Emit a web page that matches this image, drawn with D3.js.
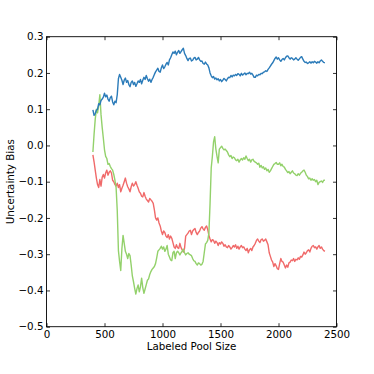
<!DOCTYPE html>
<html>
<head>
<meta charset="utf-8">
<script src="https://cdn.jsdelivr.net/npm/d3@7"></script>
<style>
  html, body { margin: 0; padding: 0; background: #fff; }
  svg { display: block; }
  text { font-family: "DejaVu Sans", sans-serif; }
</style>
</head>
<body>
<div id="chart"></div>
<script>
// labeled pool sizes, one sample every 10
var poolStart = 400;
var poolStep = 10;

var blueBias = [
  0.098, 0.083, 0.088, 0.097, 0.100, 0.115, 0.112, 0.124, 0.128, 0.133,
  0.144, 0.134, 0.139, 0.128, 0.122, 0.132, 0.136, 0.120, 0.112, 0.122,
  0.118, 0.140, 0.184, 0.196, 0.188, 0.180, 0.168, 0.180, 0.186, 0.174,
  0.179, 0.168, 0.162, 0.174, 0.178, 0.168, 0.174, 0.163, 0.170, 0.178,
  0.174, 0.182, 0.170, 0.180, 0.188, 0.182, 0.193, 0.184, 0.177, 0.183,
  0.174, 0.182, 0.188, 0.196, 0.203, 0.208, 0.213, 0.204, 0.202, 0.214,
  0.222, 0.212, 0.217, 0.224, 0.229, 0.222, 0.236, 0.242, 0.250, 0.258,
  0.254, 0.260, 0.250, 0.257, 0.262, 0.254, 0.259, 0.264, 0.268, 0.254,
  0.248, 0.240, 0.234, 0.240, 0.241, 0.233, 0.235, 0.241, 0.243, 0.236,
  0.238, 0.243, 0.236, 0.232, 0.233, 0.226, 0.224, 0.230, 0.225, 0.222,
  0.214, 0.200, 0.192, 0.187, 0.190, 0.183, 0.186, 0.181, 0.184, 0.178,
  0.182, 0.176, 0.180, 0.185, 0.182, 0.178, 0.184, 0.188, 0.187, 0.193,
  0.189, 0.194, 0.192, 0.196, 0.193, 0.198, 0.196, 0.192, 0.199, 0.194,
  0.197, 0.200, 0.195, 0.199, 0.198, 0.202, 0.197, 0.199, 0.194, 0.188,
  0.188, 0.194, 0.192, 0.196, 0.195, 0.199, 0.198, 0.202, 0.203, 0.206,
  0.204, 0.210, 0.214, 0.219, 0.224, 0.228, 0.234, 0.240, 0.244, 0.238,
  0.242, 0.236, 0.232, 0.237, 0.240, 0.236, 0.242, 0.246, 0.247, 0.242,
  0.238, 0.242, 0.240, 0.236, 0.238, 0.242, 0.238, 0.235, 0.239, 0.243,
  0.245, 0.238, 0.232, 0.229, 0.230, 0.226, 0.228, 0.231, 0.227, 0.231,
  0.228, 0.232, 0.230, 0.227, 0.231, 0.228, 0.233, 0.236, 0.232, 0.229,
  0.228
];

var redBias = [
  -0.026, -0.045, -0.068, -0.090, -0.108, -0.116, -0.094, -0.112, -0.088, -0.080,
  -0.090, -0.076, -0.068, -0.082, -0.074, -0.070, -0.076, -0.096, -0.100, -0.108,
  -0.112, -0.104, -0.116, -0.108, -0.128, -0.118, -0.110, -0.100, -0.090, -0.104,
  -0.114, -0.120, -0.128, -0.114, -0.104, -0.112, -0.108, -0.100, -0.110, -0.118,
  -0.128, -0.132, -0.140, -0.142, -0.130, -0.140, -0.148, -0.152, -0.156, -0.146,
  -0.150, -0.154, -0.160, -0.178, -0.200, -0.206, -0.200, -0.214, -0.222, -0.236,
  -0.246, -0.236, -0.240, -0.250, -0.254, -0.246, -0.258, -0.250, -0.256, -0.268,
  -0.280, -0.284, -0.274, -0.282, -0.284, -0.270, -0.282, -0.288, -0.294, -0.284,
  -0.250, -0.246, -0.242, -0.236, -0.234, -0.246, -0.236, -0.232, -0.229, -0.240,
  -0.246, -0.240, -0.236, -0.228, -0.224, -0.230, -0.234, -0.226, -0.222, -0.232,
  -0.248, -0.258, -0.266, -0.260, -0.262, -0.270, -0.264, -0.268, -0.276, -0.268,
  -0.272, -0.266, -0.270, -0.278, -0.274, -0.280, -0.282, -0.276, -0.280, -0.286,
  -0.282, -0.276, -0.280, -0.274, -0.284, -0.278, -0.286, -0.280, -0.276, -0.282,
  -0.280, -0.286, -0.290, -0.284, -0.296, -0.288, -0.284, -0.290, -0.280, -0.276,
  -0.270, -0.262, -0.258, -0.264, -0.268, -0.260, -0.258, -0.264, -0.262, -0.258,
  -0.266, -0.274, -0.296, -0.306, -0.316, -0.322, -0.334, -0.326, -0.332, -0.340,
  -0.342, -0.326, -0.312, -0.320, -0.322, -0.330, -0.338, -0.330, -0.336, -0.324,
  -0.322, -0.316, -0.318, -0.312, -0.320, -0.314, -0.316, -0.310, -0.314, -0.306,
  -0.308, -0.302, -0.294, -0.300, -0.296, -0.290, -0.288, -0.294, -0.284, -0.278,
  -0.276, -0.282, -0.280, -0.286, -0.280, -0.276, -0.284, -0.280, -0.286, -0.290,
  -0.292
];

var greenBias = [
  -0.018, 0.030, 0.072, 0.100, 0.090, 0.110, 0.140, 0.085, 0.050, 0.020,
  -0.012, -0.030, -0.036, -0.052, -0.050, -0.058, -0.064, -0.068, -0.080, -0.096,
  -0.116, -0.180, -0.290, -0.320, -0.345, -0.285, -0.248, -0.270, -0.292, -0.300,
  -0.312, -0.298, -0.304, -0.330, -0.360, -0.376, -0.394, -0.410, -0.395, -0.385,
  -0.404, -0.390, -0.366, -0.392, -0.408, -0.396, -0.384, -0.372, -0.368, -0.356,
  -0.348, -0.342, -0.338, -0.334, -0.326, -0.310, -0.292, -0.288, -0.284, -0.278,
  -0.286, -0.280, -0.292, -0.286, -0.276, -0.300, -0.308, -0.316, -0.318, -0.296,
  -0.292, -0.312, -0.296, -0.292, -0.296, -0.302, -0.296, -0.292, -0.286, -0.296,
  -0.302, -0.298, -0.296, -0.300, -0.302, -0.304, -0.312, -0.318, -0.320, -0.326,
  -0.330, -0.324, -0.326, -0.330, -0.328, -0.320, -0.296, -0.272, -0.268, -0.262,
  -0.242, -0.160, -0.062, -0.030, 0.010, 0.024, -0.010, -0.030, -0.048, -0.010,
  -0.006, -0.002, -0.008, -0.012, -0.010, -0.014, -0.018, -0.026, -0.031, -0.028,
  -0.036, -0.032, -0.034, -0.040, -0.042, -0.038, -0.046, -0.040, -0.036, -0.040,
  -0.034, -0.038, -0.029, -0.036, -0.042, -0.038, -0.046, -0.040, -0.038, -0.044,
  -0.046, -0.048, -0.052, -0.049, -0.060, -0.055, -0.062, -0.059, -0.066, -0.062,
  -0.070, -0.066, -0.074, -0.070, -0.064, -0.058, -0.052, -0.050, -0.047, -0.052,
  -0.052, -0.048, -0.056, -0.052, -0.058, -0.060, -0.066, -0.070, -0.075, -0.072,
  -0.078, -0.074, -0.070, -0.076, -0.078, -0.082, -0.083, -0.078, -0.082, -0.077,
  -0.074, -0.070, -0.068, -0.074, -0.082, -0.086, -0.092, -0.090, -0.096, -0.092,
  -0.096, -0.094, -0.100, -0.096, -0.108, -0.102, -0.100, -0.098, -0.102, -0.096,
  -0.096
];

var xTicks = [0, 500, 1000, 1500, 2000, 2500];
var yTicks = [0.3, 0.2, 0.1, 0.0, -0.1, -0.2, -0.3, -0.4, -0.5];

var series = [
  { name: "red", values: redBias, colour: "#f06a6a" },
  { name: "green", values: greenBias, colour: "#93d16b" },
  { name: "blue", values: blueBias, colour: "#2b7bb9" }
];

var width = 374, height = 374;
var margin = { left: 46.5, top: 36.7, right: 37.5, bottom: 47.3 };
var fontSize = 10.3;

var svg = d3.select("#chart").append("svg")
  .attr("width", width)
  .attr("height", height);

var x = d3.scaleLinear().domain([0, 2500]).range([margin.left, width - margin.right]);
var y = d3.scaleLinear().domain([-0.5, 0.3]).range([height - margin.bottom, margin.top]);

function fmtY(d) {
  return d3.format(".1f")(d).replace("-", "\u2212");
}

// lines
var line = d3.line()
  .x(function (d, i) { return x(poolStart + i * poolStep); })
  .y(function (d) { return y(d); });

svg.append("g").selectAll("path")
  .data(series)
  .enter().append("path")
  .attr("d", function (s) { return line(s.values); })
  .attr("fill", "none")
  .attr("stroke", function (s) { return s.colour; })
  .attr("stroke-width", 1.4)
  .attr("stroke-linejoin", "round");

// axes, ticks pointing inward on all four sides
var tick = 3.5;
var axBottom = svg.append("g")
  .attr("transform", "translate(0," + y(-0.5) + ")")
  .call(d3.axisBottom(x).tickValues(xTicks).tickFormat(d3.format("d"))
    .tickSizeInner(-tick).tickSizeOuter(0).tickPadding(4));
var axLeft = svg.append("g")
  .attr("transform", "translate(" + x(0) + ",0)")
  .call(d3.axisLeft(y).tickValues(yTicks).tickFormat(fmtY)
    .tickSizeInner(-tick).tickSizeOuter(0).tickPadding(3));
var axTop = svg.append("g")
  .attr("transform", "translate(0," + y(0.3) + ")")
  .call(d3.axisTop(x).tickValues(xTicks).tickFormat("")
    .tickSizeInner(-tick).tickSizeOuter(0));
var axRight = svg.append("g")
  .attr("transform", "translate(" + x(2500) + ",0)")
  .call(d3.axisRight(y).tickValues(yTicks).tickFormat("")
    .tickSizeInner(-tick).tickSizeOuter(0));

[axBottom, axLeft, axTop, axRight].forEach(function (g) {
  g.select(".domain").remove();
  g.selectAll("line").attr("stroke", "#000").attr("stroke-width", 0.8);
  g.selectAll("text")
    .attr("fill", "#000")
    .style("font-family", "'DejaVu Sans', sans-serif")
    .style("font-size", fontSize + "px");
});

// frame
svg.append("rect")
  .attr("x", x(0))
  .attr("y", y(0.3))
  .attr("width", x(2500) - x(0))
  .attr("height", y(-0.5) - y(0.3))
  .attr("fill", "none")
  .attr("stroke", "#000")
  .attr("stroke-width", 0.9);

// axis titles
svg.append("text")
  .attr("x", (x(0) + x(2500)) / 2)
  .attr("y", 349.5)
  .attr("text-anchor", "middle")
  .style("font-size", fontSize + "px")
  .text("Labeled Pool Size");

svg.append("text")
  .attr("transform", "translate(14.2," + ((y(0.3) + y(-0.5)) / 2) + ") rotate(-90)")
  .attr("text-anchor", "middle")
  .style("font-size", fontSize + "px")
  .text("Uncertainty Bias");
</script>
</body>
</html>
